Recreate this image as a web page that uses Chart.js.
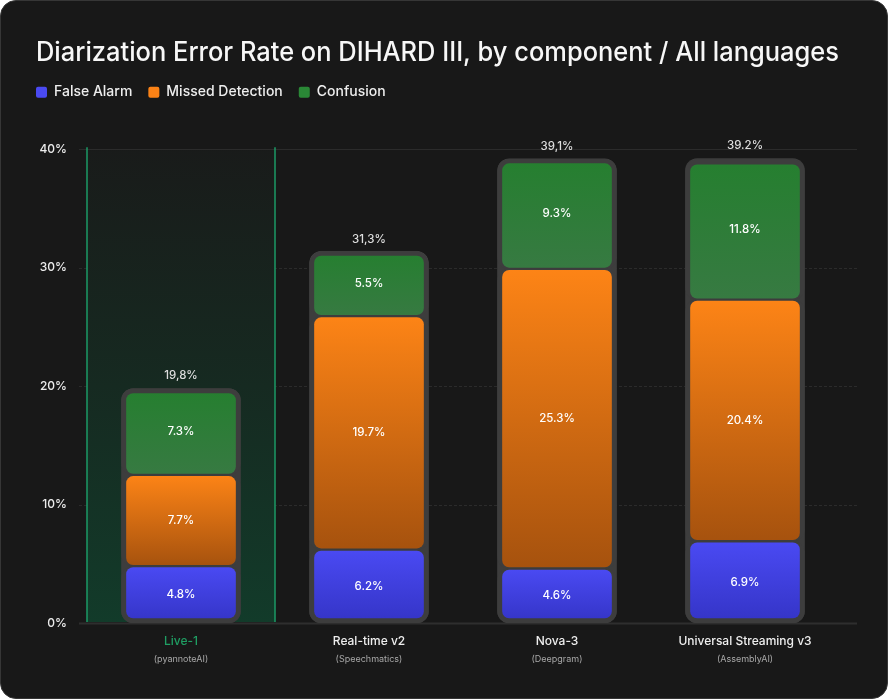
<!DOCTYPE html>
<html lang="en">
<head>
<meta charset="UTF-8">
<title>Diarization Error Rate on DIHARD III</title>
<script src="https://cdn.jsdelivr.net/npm/chart.js"></script>
<style>
    html, body { margin: 0; padding: 0; background: #ffffff; }
    .card {
        position: absolute; left: 0; top: 0;
        width: 888px; height: 699px;
        box-sizing: border-box;
        background: #181818;
        border: 1px solid #363636;
        border-radius: 16px;
        overflow: hidden;
    }
    canvas { position: absolute; left: -1px; top: -1px; }
</style>
</head>
<body>
<div class="card"><canvas id="derChart" width="888" height="699"></canvas></div>
<script>
// data
const models = ['Live-1', 'Real-time v2', 'Nova-3', 'Universal Streaming v3'];
const providers = ['(pyannoteAI)', '(Speechmatics)', '(Deepgram)', '(AssemblyAI)'];
const falseAlarm = [4.8, 6.2, 4.6, 6.9];
const missedDetection = [7.7, 19.7, 25.3, 20.4];
const confusion = [7.3, 5.5, 9.3, 11.8];
const totals = [19.8, 31.3, 39.1, 39.2];
const totalLabels = ['19,8%', '31,3%', '39,1%', '39.2%'];
const seriesNames = ['False Alarm', 'Missed Detection', 'Confusion'];
const seriesColors = ['#4a4af2', '#fb8216', '#2a8836'];

const frameColor = '#3d3d3d';
Chart.defaults.font.family = "Inter, 'Noto Sans', sans-serif";
Chart.defaults.color = '#ececec';

// vertical gradient per bar segment (needs element position -> second update)
function vGradient(top, bottom) {
    return function(c) {
        const el = c.element;
        if (!el || !isFinite(el.y) || !isFinite(el.base) || el.y === el.base) return top;
        const g = c.chart.ctx.createLinearGradient(0, Math.min(el.y, el.base), 0, Math.max(el.y, el.base));
        g.addColorStop(0, top);
        g.addColorStop(1, bottom);
        return g;
    };
}

function segment(label, data, top, bottom, bw) {
    return {
        label: label,
        data: data,
        stack: 'seg',
        backgroundColor: vGradient(top, bottom),
        borderColor: frameColor,
        borderWidth: bw,
        borderSkipped: false,
        borderRadius: { topLeft: 12, topRight: 12, bottomLeft: 12, bottomRight: 12 },
        grouped: false,
        categoryPercentage: 1,
        barPercentage: 1,
        maxBarThickness: 119
    };
}

// grid lines + highlighted first column
const backdrop = {
    id: 'backdrop',
    beforeDatasetsDraw(chart) {
        const { ctx, chartArea: a, scales: { x, y } } = chart;
        ctx.save();
        y.ticks.forEach(t => {
            const py = Math.round(y.getPixelForValue(t.value)) + 0.5;
            ctx.strokeStyle = t.value === 0 ? '#2e2e2e' : '#2b2b2b';
            ctx.lineWidth = t.value === 0 ? 2 : 1;
            ctx.setLineDash(t.value === 0 || t.value === 40 ? [] : [3, 2]);
            ctx.beginPath();
            ctx.moveTo(a.left - 8, py);
            ctx.lineTo(a.right + 18, py);
            ctx.stroke();
        });
        ctx.setLineDash([]);
        const c0 = x.getPixelForValue(0);
        const half = (x.getPixelForValue(1) - c0) / 2;
        const left = c0 - half, right = c0 + half;
        const g = ctx.createLinearGradient(0, a.top, 0, a.bottom);
        g.addColorStop(0, '#191b1a');
        g.addColorStop(0.5, '#162a21');
        g.addColorStop(1, '#123b2a');
        ctx.fillStyle = g;
        ctx.fillRect(left, a.top + 1, right - left, a.bottom - a.top - 2);
        ctx.strokeStyle = '#1b9a66';
        ctx.lineWidth = 1.5;
        [left, right].forEach(px => {
            ctx.beginPath();
            ctx.moveTo(px, a.top - 2);
            ctx.lineTo(px, a.bottom - 1);
            ctx.stroke();
        });
        ctx.restore();
    }
};

// value labels, totals and provider names
const labelsPlugin = {
    id: 'labelsPlugin',
    afterDatasetsDraw(chart) {
        const { ctx, scales: { x } } = chart;
        ctx.save();
        ctx.textAlign = 'center';
        ctx.textBaseline = 'middle';
        ctx.font = "500 11.5px Inter, 'Noto Sans', sans-serif";
        ctx.fillStyle = '#ffffff';
        [0, 1, 2].forEach(di => {
            const ds = chart.data.datasets[di];
            chart.getDatasetMeta(di).data.forEach((el, i) => {
                ctx.fillText(ds.data[i].toFixed(1) + '%', el.x, (el.y + el.base) / 2);
            });
        });
        ctx.fillStyle = '#dedede';
        chart.getDatasetMeta(3).data.forEach((el, i) => {
            ctx.fillText(totalLabels[i], el.x, el.y - 13);
        });
        ctx.font = "400 9px Inter, 'Noto Sans', sans-serif";
        ctx.fillStyle = '#a8a8a8';
        providers.forEach((p, i) => {
            ctx.fillText(p, x.getPixelForValue(i), 659);
        });
        ctx.restore();
    }
};

// legend: flush with the title and leave room below it
const legendTweak = {
    id: 'legendTweak',
    beforeLayout(chart) {
        const lg = chart.legend;
        if (lg && !lg._patched) {
            const fit = lg.fit;
            lg.fit = function() { fit.call(this); this.height += 40; };
            lg._patched = true;
        }
    },
    afterLayout(chart) {
        const lg = chart.legend;
        const p = lg.options.labels.padding;
        lg.left -= p;
        lg.right -= p;
    }
};

const chart = new Chart(document.getElementById('derChart'), {
    type: 'bar',
    data: {
        labels: models,
        datasets: [
            segment(seriesNames[0], falseAlarm, '#4a4af3', '#3434c6', { top: 1.5, bottom: 5, left: 5, right: 5 }),
            segment(seriesNames[1], missedDetection, '#fd8416', '#a6520e', { top: 1.5, bottom: 1.5, left: 5, right: 5 }),
            segment(seriesNames[2], confusion, '#257f2f', '#377a42', { top: 5, bottom: 1.5, left: 5, right: 5 }),
            {
                label: 'total',
                data: totals,
                stack: 'frame',
                backgroundColor: frameColor,
                borderWidth: 0,
                borderSkipped: false,
                borderRadius: { topLeft: 12, topRight: 12, bottomLeft: 12, bottomRight: 12 },
                grouped: false,
                categoryPercentage: 1,
                barPercentage: 1,
                maxBarThickness: 119
            }
        ]
    },
    options: {
        responsive: false,
        animation: false,
        layout: { padding: { left: 36, right: 49, top: 0, bottom: 0 } },
        plugins: {
            title: {
                display: true,
                text: 'Diarization Error Rate on DIHARD III, by component / All languages',
                align: 'start',
                color: '#f7f7f7',
                font: { size: 26.4, weight: '500' },
                padding: { top: 37, bottom: 0.5 }
            },
            legend: {
                align: 'start',
                labels: {
                    boxWidth: 11,
                    boxHeight: 11,
                    padding: 16,
                    color: '#eeeeee',
                    font: { size: 14, weight: '500' },
                    generateLabels: () => seriesNames.map((n, i) => ({
                        text: n,
                        fillStyle: seriesColors[i],
                        strokeStyle: seriesColors[i],
                        fontColor: '#eeeeee',
                        lineWidth: 0,
                        borderRadius: 2,
                        datasetIndex: i,
                        hidden: false
                    })),
                    useBorderRadius: true,
                    borderRadius: 2
                }
            },
            tooltip: { enabled: false }
        },
        scales: {
            x: {
                grid: { display: false, drawTicks: false },
                border: { display: false },
                ticks: {
                    color: c => c.index === 0 ? '#1f9e63' : '#eeeeee',
                    font: { size: 12, weight: '500' },
                    padding: 11,
                    maxRotation: 0,
                    autoSkip: false
                },
                afterFit(s) { s.height = 76; }
            },
            y: {
                stacked: true,
                min: 0,
                max: 40,
                grid: { display: false, drawTicks: false },
                border: { display: false },
                ticks: {
                    stepSize: 10,
                    color: '#ececec',
                    font: { size: 12, weight: '500' },
                    padding: 20,
                    callback: v => v + '%'
                },
                afterFit(s) { s.width = 51; }
            }
        }
    },
    plugins: [backdrop, labelsPlugin, legendTweak]
});
// second pass so the gradients know each bar's position
chart.update();
</script>
</body>
</html>
